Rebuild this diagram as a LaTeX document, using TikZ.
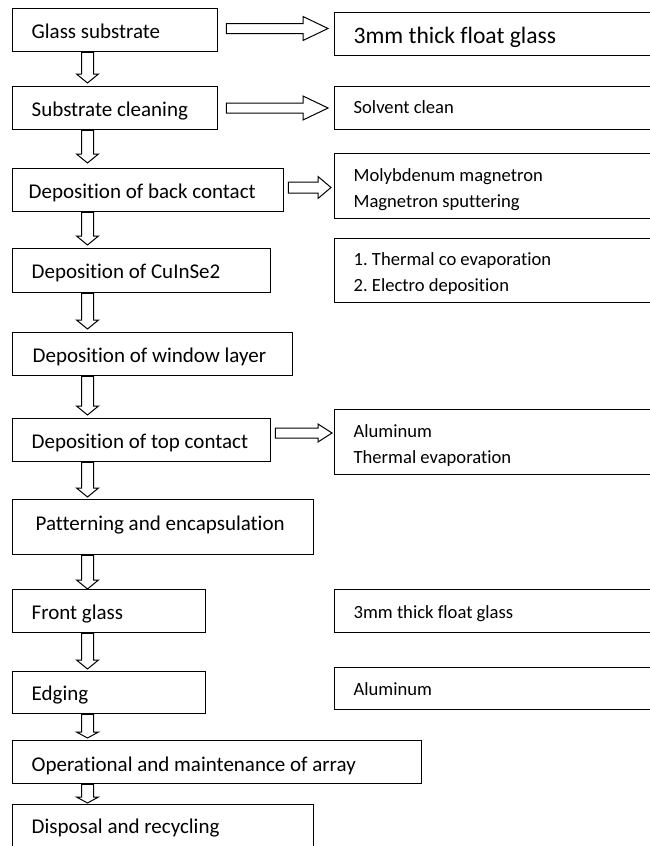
\documentclass[tikz,border=0pt]{standalone}
\usepackage{fontspec}
\setmainfont{Carlito}[Ligatures={NoCommon,NoContextual}]
\frenchspacing
\usetikzlibrary{calc}
\tikzset{
  box/.style={draw, line width=1.3pt, anchor=north west, align=left, inner ysep=0pt, inner xsep=19pt},
  lbox/.style={box, font=\fontsize{21}{25}\selectfont, text height=30pt},
  rbox/.style={box, font=\fontsize{18.6}{26}\selectfont, text height=28pt},
  rbox2/.style={box, font=\fontsize{18.6}{26}\selectfont, text height=54pt},
  bigbox/.style={box, font=\fontsize{23.6}{28}\selectfont, text height=31pt},
  blk/.style={draw, line width=1pt, fill=white, line join=miter},
}
\newcommand\ltxt[2]{\makebox[#1pt][l]{#2}}
\newcommand\twol[2]{\makebox[288pt][l]{\vbox{\hbox{#1}\hbox{#2}}}}
% down block arrow: from, to, tip gap, head length
\newcommand\darr[4]{\draw[blk] let \p1=(#1.south -| ax), \p2=(#2.north -| ax) in
  (\x1-6pt,\y1) -- (\x1-6pt,\y2+#3pt+#4pt) -- (\x1-11pt,\y2+#3pt+#4pt) -- (\x1,\y2+#3pt)
  -- (\x1+11pt,\y2+#3pt+#4pt) -- (\x1+6pt,\y2+#3pt+#4pt) -- (\x1+6pt,\y1) -- cycle;}
% right block arrow: from, to, y, start gap, end gap, head length, shaft half, head half
\newcommand\rarr[8]{\draw[blk] let \p1=(#1.east), \p2=(#2.west) in
  (\x1+#4pt,-#3pt+#7pt) -- (\x2-#5pt-#6pt,-#3pt+#7pt) -- (\x2-#5pt-#6pt,-#3pt+#8pt) -- (\x2-#5pt,-#3pt)
  -- (\x2-#5pt-#6pt,-#3pt-#8pt) -- (\x2-#5pt-#6pt,-#3pt-#7pt) -- (\x1+#4pt,-#3pt-#7pt) -- cycle;}
\begin{document}
\begin{tikzpicture}[x=1pt, y=1pt]
\useasboundingbox (0,0) rectangle (650,-846);
\fill[white] (0,0) rectangle (650,-846);
\clip (0,0) rectangle (650,-846);
\coordinate (ax) at (87.5,0);

% left column
\node[lbox, text depth=13pt] (l1) at (12,-8) {\ltxt{167}{Glass substrate}};
\node[lbox, text depth=13pt] (l2) at (12,-86) {\ltxt{167}{Substrate cleaning}};
\node[lbox, inner xsep=16pt, text depth=13pt] (l3) at (12,-168) {\ltxt{239}{Deposition of back contact}};
\node[lbox, text depth=14pt] (l4) at (12,-248) {\ltxt{220}{Deposition of CuInSe2}};
\node[lbox, inner xsep=20pt, text depth=13pt] (l5) at (12,-332) {\ltxt{240}{Deposition of window layer}};
\node[lbox, text depth=13pt] (l6) at (12,-418) {\ltxt{220}{Deposition of top contact}};
\node[lbox, inner xsep=23pt, text height=31pt, text depth=24pt] (l7) at (12,-499) {\ltxt{255}{Patterning and encapsulation}};
\node[lbox, text depth=13pt] (l8) at (12,-589) {\ltxt{155}{Front glass}};
\node[lbox, text height=29pt, text depth=13pt] (l9) at (12,-671) {\ltxt{155}{Edging}};
\node[lbox, text height=31pt, text depth=12pt] (l10) at (12,-740) {\ltxt{371}{Operational and maintenance of array}};
\node[lbox, text height=29pt, text depth=15pt] (l11) at (12,-804) {\ltxt{263}{Disposal and recycling}};

% right column
\node[bigbox, text depth=12pt] (r1) at (334,-12) {\ltxt{288}{3mm thick float glass}};
\node[rbox, text height=27pt, text depth=16pt] (r2) at (334,-86) {\ltxt{288}{Solvent clean}};
\node[rbox2, text depth=11pt] (r3) at (334,-153) {\twol{Molybdenum magnetron}{Magnetron sputtering}};
\node[rbox2, text height=53pt, text depth=11pt] (r4) at (334,-238) {\twol{1. Thermal co evaporation}{2. Electro deposition}};
\node[rbox2, text depth=11pt] (r5) at (334,-409) {\twol{Aluminum}{Thermal evaporation}};
\node[rbox, text height=29pt, text depth=14pt] (r6) at (334,-589) {\ltxt{288}{3mm thick float glass}};
\node[rbox, text depth=14pt] (r7) at (334,-667) {\ltxt{288}{Aluminum}};

% down arrows
\darr{l1}{l2}{3}{9}
\darr{l2}{l3}{5}{9}
\darr{l3}{l4}{3}{9}
\darr{l4}{l5}{3}{9}
\darr{l5}{l6}{3}{9}
\darr{l6}{l7}{2}{9}
\darr{l7}{l8}{0}{9}
\darr{l8}{l9}{2}{9}
\darr{l9}{l10}{2}{6}
\darr{l10}{l11}{1}{6}

% right arrows
\rarr{l1}{r1}{28.5}{8}{6}{25}{5}{12}
\rarr{l2}{r2}{108}{8}{6}{25}{5}{12}
\rarr{l3}{r3}{187.5}{4}{3}{13}{5.5}{11}
\rarr{l6}{r5}{433}{4}{2}{14}{5}{9}
\end{tikzpicture}
\end{document}
